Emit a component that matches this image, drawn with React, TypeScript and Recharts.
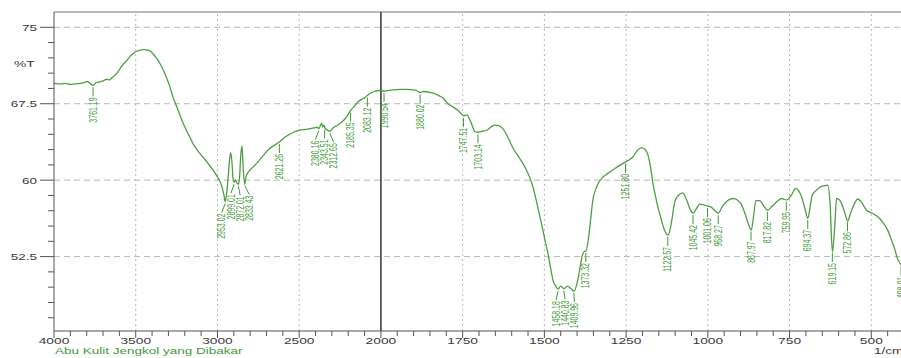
import React from 'react';
import { LineChart, Line, XAxis, YAxis, ReferenceLine, ReferenceDot } from 'recharts';

// FTIR spectrum, wavenumber (1/cm) vs %T
const WAVENUMBER = [
  4000, 3960, 3930, 3900, 3870, 3840, 3810, 3798, 3780, 3761, 3745, 3719, 3700, 3676, 3660, 3645, 3627, 3610,
  3596, 3575, 3554, 3535, 3517, 3495, 3474, 3450, 3425, 3410, 3394, 3375, 3352, 3330, 3309, 3290, 3272, 3250,
  3229, 3208, 3186, 3165, 3150, 3130, 3107, 3080, 3058, 3030, 3003, 2985, 2970, 2960, 2953, 2945, 2936, 2927,
  2919, 2911, 2905, 2899, 2890, 2880, 2872, 2865, 2858, 2850, 2842, 2833, 2826, 2815, 2801, 2775, 2752, 2720,
  2691, 2660, 2630, 2621, 2600, 2569, 2540, 2508, 2477, 2447, 2420, 2400, 2390, 2380, 2372, 2363, 2355, 2348,
  2343, 2330, 2312, 2295, 2275, 2251, 2230, 2210, 2195, 2185, 2160, 2139, 2115, 2098, 2083, 2067, 2040, 2016,
  2000, 1990, 1965, 1942, 1920, 1900, 1888, 1880, 1870, 1855, 1835, 1820, 1810, 1795, 1780, 1765, 1755, 1747,
  1737, 1725, 1712, 1703, 1690, 1676, 1662, 1651, 1640, 1627, 1610, 1596, 1580, 1566, 1555, 1544, 1533, 1523,
  1510, 1498, 1489, 1480, 1474, 1465, 1458, 1450, 1440, 1430, 1420, 1409, 1400, 1392, 1385, 1378, 1373, 1365,
  1358, 1352, 1343, 1335, 1321, 1305, 1291, 1270, 1251, 1240, 1229, 1215, 1202, 1190, 1183, 1175, 1168, 1160,
  1152, 1142, 1135, 1128, 1122, 1116, 1110, 1105, 1100, 1090, 1077, 1065, 1055, 1045, 1035, 1025, 1015, 1001,
  990, 978, 968, 956, 944, 932, 920, 910, 899, 885, 875, 867, 860, 853, 841, 830, 817, 805, 795, 785, 775, 759,
  745, 731, 722, 713, 703, 694, 687, 681, 670, 658, 645, 633, 626, 619, 612, 606, 600, 593, 583, 572, 565, 560,
  550, 542, 530, 515, 497, 480, 466, 450, 438, 428, 420, 409, 400,
];

const TRANSMITTANCE = [
  69.5, 69.45, 69.5, 69.4, 69.45, 69.5, 69.6, 69.7, 69.5, 69.3, 69.55, 69.65, 69.75, 69.9, 69.85, 70.05, 70.3, 70.6,
  70.95, 71.4, 71.75, 72.15, 72.4, 72.65, 72.75, 72.8, 72.75, 72.65, 72.4, 72.0, 71.45, 70.75, 69.95, 69.1, 68.15, 67.25,
  66.35, 65.5, 64.75, 64.1, 63.6, 63.1, 62.6, 62.1, 61.65, 61.05, 60.4, 59.9, 59.2, 58.5, 57.9, 58.6, 60.0, 61.8,
  62.7, 61.7, 60.2, 59.8, 60.0, 59.7, 59.6, 60.2, 62.3, 63.35, 61.0, 59.6, 60.3, 60.7, 61.0, 61.4, 61.8, 62.4,
  62.95, 63.35, 63.65, 63.75, 64.05, 64.4, 64.65, 64.85, 64.95, 65.0, 65.1, 65.15, 65.2, 65.05, 65.3, 65.6, 65.2, 65.4,
  65.15, 64.95, 64.8, 65.1, 65.3, 65.55, 65.85, 66.2, 66.6, 66.85, 67.3, 67.7, 67.95, 68.1, 68.3, 68.5, 68.7, 68.8,
  68.75, 68.75, 68.85, 68.9, 68.9, 68.85, 68.75, 68.6, 68.7, 68.65, 68.5, 68.25, 68.05, 67.5, 67.2, 66.85, 66.55, 66.3,
  66.4, 65.7, 64.75, 64.7, 64.8, 64.9, 65.25, 65.4, 65.35, 65.05, 64.1, 63.15, 62.35, 61.65, 61.0, 60.2, 59.1, 57.75,
  55.9, 54.1, 52.8, 51.2, 50.2, 49.6, 49.3, 49.6, 49.35, 49.6, 49.4, 49.1, 49.9, 51.2, 52.5, 53.0, 53.05, 54.3,
  56.3, 58.0, 59.1, 59.7, 60.3, 60.7, 61.0, 61.45, 61.8, 62.0, 62.3, 62.95, 63.2, 62.95, 62.45, 61.2, 59.7, 58.4,
  57.25, 56.1, 55.3, 54.8, 54.6, 55.1, 56.1, 57.2, 58.0, 58.5, 58.75, 58.05, 57.2, 56.75, 57.2, 57.65, 57.6, 57.45,
  57.35, 57.0, 56.75, 57.4, 57.85, 58.15, 58.2, 58.05, 57.7, 56.6, 55.6, 55.1, 56.5, 58.0, 58.0, 57.5, 57.05, 57.4, 57.7, 58.0, 58.2, 58.05,
  58.5, 59.2, 58.95, 58.35, 57.2, 56.25, 57.4, 58.5, 58.95, 59.3, 59.45, 59.5, 57.6, 52.95, 55.4, 58.2, 58.15, 57.85, 57.0, 56.0, 56.6, 57.05,
  57.8, 58.15, 57.85, 57.05, 56.75, 56.4, 55.9, 55.1, 54.1, 53.2, 52.3, 51.7, 51.2,
];

const PEAK_LABELS = [
  '3761.19', '2953.02', '2899.01', '2872.01', '2833.43', '2621.26', '2380.16', '2343.51', '2312.65',
  '2185.35', '2083.12', '1990.54', '1880.02', '1747.51', '1703.14', '1458.18', '1440.83', '1409.96',
  '1373.32', '1251.80', '1122.57', '1045.42', '1001.06', '968.27', '867.97', '817.82', '759.95',
  '694.37', '619.15', '572.86', '408.91',
];

const X_MAJOR = [4000, 3500, 3000, 2500, 2000, 1750, 1500, 1250, 1000, 750, 500];
const Y_MAJOR = [52.5, 60, 67.5, 75];

const SAMPLE_NAME = 'Abu Kulit Jengkol yang Dibakar';

const GREEN = '#4f9e45';
const LABEL_GREEN = '#3f9a3a';
const AXIS = '#555';
const TEXT = '#3a3a3a';
const FONT = '"Liberation Sans", Arial, sans-serif';

const CHART_W = 920;
const CHART_H = 358;
const PLOT_LEFT = 54;
const PLOT_RIGHT = 904;
const U_MAX = 2600;
const PX_PER_U = (PLOT_RIGHT - PLOT_LEFT) / U_MAX;

// x scale changes at 2000 1/cm (2x expansion below it)
const toU = (w: number) => (w >= 2000 ? (4000 - w) / 2 : 1000 + (2000 - w));
const fromU = (u: number) => (u <= 1000 ? 4000 - 2 * u : 3000 - u);

const data = WAVENUMBER.map((w, i) => ({ u: toU(w), t: TRANSMITTANCE[i] }));

const valueAt = (w: number) => {
  for (let i = 0; i < WAVENUMBER.length - 1; i++) {
    const a = WAVENUMBER[i];
    const b = WAVENUMBER[i + 1];
    if (w <= a && w >= b) {
      const f = (a - w) / (a - b);
      return TRANSMITTANCE[i] + f * (TRANSMITTANCE[i + 1] - TRANSMITTANCE[i]);
    }
  }
  return TRANSMITTANCE[TRANSMITTANCE.length - 1];
};

// spread crowded labels apart, keeping each group centred
const MIN_GAP_U = 28;
const peaks = (() => {
  const base = PEAK_LABELS.map((s) => {
    const w = parseFloat(s);
    return { text: s, w, u: toU(w), t: valueAt(w), pos: toU(w) };
  });
  let group: number[] = [0];
  const flush = () => {
    if (group.length > 1) {
      const shift = group.reduce((acc, j) => acc + (base[j].pos - base[j].u), 0) / group.length;
      group.forEach((j) => (base[j].pos -= shift));
    }
  };
  for (let i = 1; i < base.length; i++) {
    const prev = base[i - 1].pos;
    if (base[i].u - prev < MIN_GAP_U) {
      base[i].pos = prev + MIN_GAP_U;
      group.push(i);
    } else {
      flush();
      group = [i];
    }
  }
  flush();
  return base;
})();

const xTicks: number[] = [];
for (let u = 0; u <= U_MAX; u += 50) xTicks.push(u);
const yTicks: number[] = [];
for (let v = 46.5; v <= 75.01; v += 1.5) yTicks.push(Math.round(v * 10) / 10);

const XTick = (props: any) => {
  const { x, y, payload } = props;
  const w = fromU(payload.value);
  const major = X_MAJOR.includes(w);
  return (
    <g>
      <line x1={x} x2={x} y1={y} y2={y + (major ? 7 : 5)} stroke={AXIS} strokeWidth={1} />
      {major && (
        <text
          transform={`translate(${x},${y + 12.8}) scale(1.45,1)`}
          textAnchor="middle"
          fontSize={9.5}
          fontFamily={FONT}
          fill={TEXT}
        >
          {w}
        </text>
      )}
    </g>
  );
};

const YTick = (props: any) => {
  const { x, y, payload } = props;
  const major = Y_MAJOR.includes(payload.value);
  return (
    <g>
      <line x1={x - (major ? 14 : 6)} x2={x} y1={y} y2={y} stroke={AXIS} strokeWidth={1} />
      {major && (
        <text
          transform={`translate(${x - 17},${y + 3.5}) scale(1.42,1)`}
          textAnchor="end"
          fontSize={9.5}
          fontFamily={FONT}
          fill={TEXT}
        >
          {payload.value}
        </text>
      )}
    </g>
  );
};

const PeakLabel = (props: any) => {
  const { cx, cy, text, du } = props;
  if (cx == null || cy == null) return null;
  const tx = cx + du * PX_PER_U;
  const top = cy + 12;
  return (
    <g>
      <line x1={cx} y1={cy + 2} x2={tx} y2={top - 1} stroke={LABEL_GREEN} strokeWidth={1} />
      <text
        transform={`translate(${tx},${top}) rotate(-90) scale(1,1.45)`}
        textAnchor="end"
        dy="0.35em"
        fontSize={7}
        fontFamily={FONT}
        fill={LABEL_GREEN}
      >
        {text}
      </text>
    </g>
  );
};

export default function App() {
  return (
    <div style={{ position: 'absolute', left: 0, top: 0, width: 901, height: 358, overflow: 'hidden', background: '#fff' }}>
      <LineChart width={CHART_W} height={CHART_H} data={data} margin={{ top: 12, right: CHART_W - PLOT_RIGHT, bottom: 0, left: 0 }}>
        {X_MAJOR.filter((w) => w !== 4000 && w !== 2000).map((w) => (
          <ReferenceLine key={`vx${w}`} x={toU(w)} stroke="#b8b8b8" strokeDasharray="2 3" />
        ))}
        {Y_MAJOR.map((v) => (
          <ReferenceLine key={`hy${v}`} y={v} stroke="#b8b8b8" strokeDasharray="6 4" />
        ))}
        <ReferenceLine y={76.5} stroke="#777" />
        <ReferenceLine x={toU(2000)} stroke="#333" strokeWidth={1.5} />
        <XAxis
          dataKey="u"
          type="number"
          domain={[0, U_MAX]}
          ticks={xTicks}
          interval={0}
          tick={<XTick />}
          tickLine={false}
          tickSize={0}
          tickMargin={0}
          axisLine={{ stroke: AXIS }}
          height={27}
          allowDataOverflow
        />
        <YAxis
          type="number"
          domain={[45.2, 76.5]}
          ticks={yTicks}
          interval={0}
          tick={<YTick />}
          tickLine={false}
          tickSize={0}
          tickMargin={0}
          axisLine={{ stroke: AXIS }}
          width={PLOT_LEFT}
          allowDataOverflow
        />
        <Line
          dataKey="t"
          type="monotone"
          stroke={GREEN}
          strokeWidth={1.3}
          dot={false}
          isAnimationActive={false}
        />
        {peaks.map((p) => (
          <ReferenceDot
            key={p.text}
            x={p.u}
            y={p.t}
            r={0}
            ifOverflow="visible"
            shape={(sp: any) => <PeakLabel {...sp} text={p.text} du={p.pos - p.u} />}
          />
        ))}
      </LineChart>
      <div style={{ position: 'absolute', left: 14, top: 59, fontFamily: FONT, fontSize: 9.5, lineHeight: '10px', color: TEXT, transform: 'scaleX(1.45)', transformOrigin: 'left top' }}>
        %T
      </div>
      <div style={{ position: 'absolute', left: 55, top: 346, fontFamily: FONT, fontSize: 9.5, lineHeight: '10px', color: LABEL_GREEN, whiteSpace: 'nowrap', transform: 'scaleX(1.42)', transformOrigin: 'left top' }}>
        {SAMPLE_NAME}
      </div>
      <div style={{ position: 'absolute', left: 874, top: 346, fontFamily: FONT, fontSize: 9.5, lineHeight: '10px', color: TEXT, whiteSpace: 'nowrap', transform: 'scaleX(1.42)', transformOrigin: 'left top' }}>
        1/cm
      </div>
    </div>
  );
}
